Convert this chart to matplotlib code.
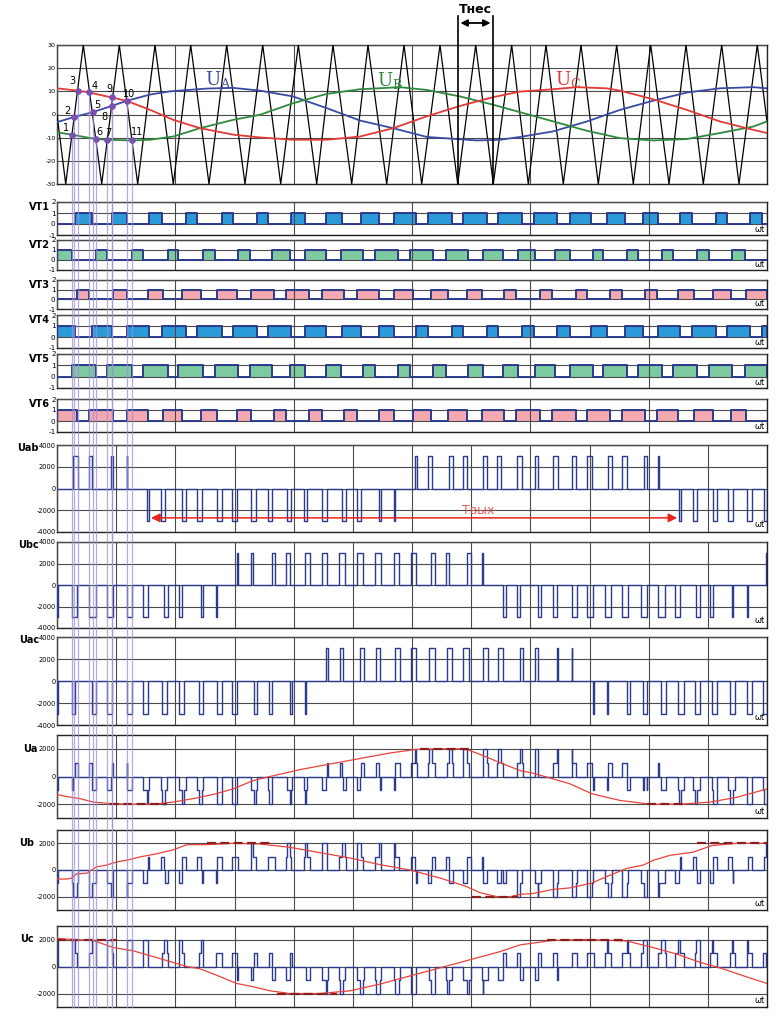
import numpy as np
import matplotlib
matplotlib.use("Agg")
import matplotlib.pyplot as plt

plt.rcParams["mathtext.fontset"] = "dejavuserif"

# ======================= DATA (time axis 0..710) =======================
X_END = 710
UD = 3000

# carrier triangle vertices
carrier_troughs = [8.7, 44.7, 80.7, 116.3, 152.0, 188.0, 223.7, 259.7, 294.7, 329.7,
                   364.7, 400.7, 436.3, 471.3, 506.3, 541.3, 576.3, 612.0, 646.3, 682.0]
carrier_peaks = [26.3, 62.3, 98.0, 133.7, 169.7, 205.7, 241.3, 276.0, 311.0, 347.0,
                 383.0, 418.7, 454.7, 489.0, 524.0, 559.7, 593.7, 629.0, 664.7, 700.3]
carrier_ends = [(0, 0.0), (710, -3.0)]

# reference (modulating) voltages
ua_x = [0, 17, 35.7, 54.7, 69.7, 93, 113, 150, 176, 203, 236, 270, 303, 336, 370, 400,
        420, 443, 463, 496, 530, 563, 593, 630, 663, 696, 710]
ua_y = [-3.3, -1.1, 1.0, 3.7, 5.9, 8.6, 10.0, 11.2, 11.5, 10.3, 7.8, 2.7, -2.6, -5.9, -9.7,
        -10.6, -11.2, -10.9, -9.7, -7.3, -3.0, 2.0, 5.6, 9.5, 11.3, 11.8, 11.3]
ub_x = [0, 14.7, 38.7, 50, 74.7, 93, 116.3, 143, 176.3, 203, 236.3, 269.7, 303, 343, 369.7,
        403, 436.3, 463, 496.3, 513, 529.7, 563, 596.3, 629.7, 663, 696.3, 710]
ub_y = [-7.7, -8.7, -10.6, -10.9, -11.2, -10.9, -9.5, -5.9, -2.3, -0.1, 4.9, 8.9, 10.9, 11.8,
        10.6, 7.8, 4.2, 1.0, -3.0, -5.0, -7.0, -10.2, -11.2, -10.6, -8.0, -5.2, -3.0]
uc_x = [0, 20.7, 32.3, 69.7, 93, 116.3, 143, 176.3, 203, 236, 270, 303, 336.3, 369.7, 403,
        436.3, 463, 496, 519.7, 549.7, 563, 596, 629.7, 663, 696, 710]
uc_y = [11.3, 10.3, 9.5, 5.9, 2.0, -2.3, -5.9, -8.7, -9.9, -10.9, -10.9, -9.5, -5.9, -0.8,
        3.7, 7.5, 9.9, 10.9, 11.8, 11.3, 10.3, 6.6, 2.0, -3.0, -6.6, -8.0]

# marked crossing points 1..11
pt_x = [14.7, 17.0, 20.7, 32.3, 35.7, 38.7, 50.3, 54.7, 55.3, 69.7, 74.7]
pt_y = [-8.7, -1.1, 10.3, 9.5, 1.0, -10.6, -10.9, 3.7, 7.5, 5.9, -11.2]
pt_labels = ["1", "2", "3", "4", "5", "6", "7", "8", "9", "10", "11"]

# gate signals: on-intervals
vt1_on = [(18, 34.7), (54.7, 70.3), (92, 104.7), (128.7, 139.7), (164.7, 175.7),
          (199.7, 211.3), (233.7, 248), (269, 284.7), (303.7, 322.3), (337, 359),
          (371.3, 394.7), (406.3, 430.3), (441.3, 465.3), (477, 499.7), (513, 534),
          (550.3, 568), (586.3, 601.3), (623, 634.7), (659, 669.7), (693, 704.7)]
vt3_on = [(20.3, 32.3), (56.3, 69.7), (91.3, 106.3), (125.3, 143.7), (159.7, 180.3),
          (194, 217), (229, 252.3), (264.7, 287), (300.3, 322.3), (337, 356.3),
          (373.7, 391.3), (410.3, 424.7), (447, 459), (483, 494.7), (518.7, 529.7),
          (553, 564.7), (588, 600.3), (621.3, 637), (656.3, 673.7), (689, 710)]
vt2_on = [(0, 14.7), (38.7, 49.7), (75.3, 86.3), (111.3, 121.3), (145.7, 158),
          (180.7, 193), (214.7, 233), (248, 269), (283.7, 306.3), (318, 341.3),
          (353, 376.3), (389, 411.3), (425.7, 445.7), (461.3, 478), (498, 513),
          (535.7, 546.3), (570.3, 581.3), (605.3, 616.3), (640.3, 652), (674.7, 688)]

# line voltages: pulse intervals (+UD / -UD)
uab_pos = [(16.3, 21.3), (32.3, 35.3), (54, 56.3), (69.7, 70.3), (358, 359.7), (371.3, 374.7),
           (392.3, 395.7), (406.3, 409.7), (426.3, 430.3), (440.3, 443.7), (460.3, 464.7),
           (478, 481.3), (496.3, 501.3), (514.7, 519), (529.7, 534.7), (551.3, 555.3),
           (565.3, 569.7), (587, 589.7), (601.3, 602.3)]
uab_neg = [(90.3, 92.3), (104, 108), (125.3, 128.7), (139.7, 144.7), (159.7, 164.7),
           (175.3, 179.7), (194, 199), (211.3, 214.7), (229.7, 234), (247, 249.7),
           (264.7, 269.7), (285.3, 289), (299.7, 303.7), (322.3, 324), (337, 337.7),
           (622.3, 624), (636.3, 639.7), (655.7, 659.7), (671.3, 675.7), (690.3, 694.7),
           (707, 710)]
ubc_pos = [(179.7, 181.3), (194, 196.3), (214.7, 218), (229, 233), (248, 253), (264.7, 269.7),
           (282.3, 288), (300.3, 306.3), (318, 323.7), (337, 342.3), (353.5, 358.5),
           (374, 378), (389, 392.3), (410.3, 413.7), (425.3, 426.3), (709.3, 710)]
ubc_neg = [(0, 1.3), (14.7, 20.3), (32.3, 38.7), (50.3, 55.7), (69.7, 74.7), (85.7, 90.7),
           (107, 110.7), (122, 125.3), (143.7, 145.7), (159, 159.7), (446.3, 448.7),
           (460.3, 463), (480.7, 484), (495.7, 499.7), (514.7, 519.7), (529.7, 535.7),
           (548, 554), (565.3, 571.3), (583.7, 589.7), (601.3, 608), (618, 623),
           (638.7, 643), (653, 656.3), (674.7, 676.3), (690.3, 691)]
uac_pos = [(269, 270.7), (283, 285.7), (303, 307), (318.7, 323), (338, 343), (353.7, 358.7),
           (372.3, 378), (389.7, 394.7), (406.3, 412.3), (425.7, 430.7), (440.7, 445.7),
           (463, 466.3), (478, 481.3), (499.7, 501.3), (514.7, 515.3)]
uac_neg = [(0, 1.3), (14.7, 18), (34.7, 39), (50.3, 55.3), (70.3, 74.7), (86.3, 91.3),
           (105.3, 110.3), (122, 127.3), (142, 146.3), (159.7, 164.7), (175.3, 179.7),
           (197, 200.3), (212.3, 214.7), (233, 234.7), (248, 248.7), (535.7, 537),
           (549.7, 551.3), (569.7, 573), (586.3, 590.3), (603.7, 609), (621.3, 627),
           (638, 643), (654.7, 660.3), (673, 678), (689.7, 694.7), (706.3, 710)]

# filtered phase voltage (red staircase) samples
ua_f_x = [0, 9.7, 23, 36.3, 56.3, 76, 96, 116, 136, 156, 176, 196, 213, 243, 273, 303, 333,
          358, 383, 408, 423, 443, 463, 476, 496, 513, 535, 563, 593, 623, 653, 680, 710]
ua_f_y = [-1300, -1450, -1600, -1850, -1975, -2000, -2000, -1850, -1600, -1300, -900, -300,
          0, 500, 900, 1300, 1700, 1950, 2000, 2000, 1600, 1000, 430, 240, -170, -530,
          -1250, -1730, -2000, -2000, -1850, -1500, -900]
ub_f_x = [0, 9.7, 14.7, 19.7, 29.7, 39.7, 49.7, 59.7, 69.7, 83, 99.7, 116.3, 129.7, 149.7,
          176.3, 203, 233, 263, 293, 323, 353, 383, 408, 423, 440, 453, 463, 476, 496, 513,
          534.7, 549.7, 569.7, 586.3, 596.3, 613, 636.3, 654.7, 679.7, 710]
ub_f_y = [-680, -680, -610, -290, -240, 240, 370, 610, 730, 980, 1220, 1510, 1900, 1900,
          2000, 1950, 1700, 1300, 900, 400, 0, -600, -1200, -1700, -2000, -2000, -1830,
          -1760, -1460, -1340, -980, -490, 120, 370, 730, 1100, 1340, 1830, 2000, 2000]
uc_f_x = [0, 16.3, 36.3, 56.3, 76.3, 93, 109.7, 129.7, 143, 159.7, 179.7, 196.3, 213, 233,
          263, 293, 323, 353, 383, 413, 443, 463, 479.7, 496.3, 529.7, 569.7, 596.3, 619.7,
          643, 663, 689.7, 710]
uc_f_y = [2080, 2000, 1930, 1400, 1160, 800, 440, 0, -170, -650, -1260, -1500, -1800, -2000,
          -2000, -1800, -1300, -700, -100, 500, 1100, 1600, 1770, 1940, 2000, 1890, 1400,
          920, 310, -100, -770, -1260]
# dashed peak segments of the filtered curves (start, end, level)
ua_dash = [(53, 110, -2000), (363, 413, 2000), (590, 630, -2000)]
ub_dash = [(150, 215, 2000), (415, 460, -2000), (640, 710, 2000)]
uc_dash = [(0, 60, 2000), (220, 280, -2000), (490, 570, 2000)]

# ======================= STYLE =======================
W, H = 784, 1024
LEFT, RIGHT = 57, 767
GRID_C = "#4a4a4a"
NAVY = "#2c3a8e"
C_UA, C_UB, C_UC = "#3b4aa3", "#2f8a3e", "#e23a36"
FILL_BLUE, FILL_GREEN, FILL_PINK = "#2b9ad8", "#7dc9a0", "#f4a8b0"
LAV = "#9c8fd8"
RED = "#e8433a"
pt_offsets = [(-4, 5), (-5, 4), (-4, 7), (4, 5), (3, 5), (3, 5), (1, 5), (-5, -8), (-2, 6), (2, 5), (4, 6)]

fig = plt.figure(figsize=(W / 100, H / 100), dpi=100)


def add_ax(top, bottom):
    return fig.add_axes([LEFT / W, 1 - bottom / H, (RIGHT - LEFT) / W, (bottom - top) / H])


def style_ax(ax, ylim, yticks, ndiv, fs=4.8):
    ax.set_xlim(0, X_END)
    ax.set_ylim(*ylim)
    ax.set_yticks(yticks)
    ax.set_yticklabels([str(t) for t in yticks], fontsize=fs)
    ax.set_xticks(np.linspace(0, X_END, ndiv + 1))
    ax.tick_params(length=0, pad=1, labelbottom=False)
    ax.grid(True, color=GRID_C, lw=0.8)
    ax.set_axisbelow(False)
    for s in ax.spines.values():
        s.set_color("#222222")
        s.set_linewidth(1.0)


def complement(intervals):
    out, prev = [], 0
    for a, b in sorted(intervals):
        if a > prev:
            out.append((prev, a))
        prev = b
    if prev < X_END:
        out.append((prev, X_END))
    return out


def step_from_intervals(intervals, high=1.0):
    xs, ys = [0], [0]
    for a, b in sorted(intervals):
        xs += [a, a, b, b]
        ys += [0, high, high, 0]
    xs.append(X_END)
    ys.append(0)
    return xs, ys


def pulses(pos, neg):
    return [(a, b, UD) for a, b in pos] + [(a, b, -UD) for a, b in neg]


def pulse_value(pl, x):
    for a, b, v in pl:
        if a <= x < b:
            return v
    return 0


def pulse_step(pl):
    xs, ys = [0], [0]
    for a, b, v in sorted(pl):
        xs += [a, a, b, b]
        ys += [0, v, v, 0]
    xs.append(X_END)
    ys.append(0)
    return xs, ys


def phase_step(p1, c1, p2, c2):
    edges = sorted(set([0, X_END] + [e for a, b, _ in p1 + p2 for e in (a, b)]))
    xs, ys = [], []
    for e0, e1 in zip(edges[:-1], edges[1:]):
        m = 0.5 * (e0 + e1)
        v = (c1 * pulse_value(p1, m) + c2 * pulse_value(p2, m)) / 3.0
        xs += [e0, e1]
        ys += [v, v]
    return xs, ys


# ======================= TOP PANEL =======================
ax0 = add_ax(45, 184)
style_ax(ax0, (-30, 30), [30, 20, 10, 0, -10, -20, -30], 6, fs=4.6)
cv = sorted([(x, -30) for x in carrier_troughs] + [(x, 30) for x in carrier_peaks] + carrier_ends)
ax0.plot([p[0] for p in cv], [p[1] for p in cv], color="black", lw=0.9, zorder=3)
ax0.plot(ua_x, ua_y, color=C_UA, lw=1.3, zorder=4)
ax0.plot(ub_x, ub_y, color=C_UB, lw=1.3, zorder=4)
ax0.plot(uc_x, uc_y, color=C_UC, lw=1.3, zorder=4)
ax0.text(148, 15.0, r"$\mathrm{U_A}$", color=C_UA, fontsize=13, ha="left", va="center")
ax0.text(320, 14.5, r"$\mathrm{U_B}$", color=C_UB, fontsize=13, ha="left", va="center")
ax0.text(498, 15.0, r"$\mathrm{U_C}$", color=C_UC, fontsize=13, ha="left", va="center")
for x, y in zip(pt_x, pt_y):
    ax0.plot([x, x], [y, -30], color=LAV, lw=0.9, alpha=0.8, zorder=5)
ax0.scatter(pt_x, pt_y, s=14, color="#7a4fb2", zorder=6)
for x, y, lab, off in zip(pt_x, pt_y, pt_labels, pt_offsets):
    ax0.annotate(lab, (x, y), xytext=off, textcoords="offset points", fontsize=7,
                 ha="center", va="center", zorder=7)
# T_nes marker
for xv in (400.7, 436.3):
    ax0.plot([xv, xv], [-30, 42.5], color="black", lw=1.2, clip_on=False, zorder=6)
ax0.annotate("", xy=(400.7, 39.5), xytext=(436.3, 39.5),
             arrowprops=dict(arrowstyle="<|-|>", color="black", lw=1.3, mutation_scale=10),
             annotation_clip=False)
ax0.text(418.5, 45.5, "Tнес", fontsize=9, ha="center", va="center", fontweight="bold")

# ======================= GATE SIGNALS =======================
vt4_on = complement(vt1_on)
vt5_on = complement(vt2_on)
vt6_on = complement(vt3_on)
gates = [("VT1", vt1_on, FILL_BLUE, 202, 235), ("VT2", vt2_on, FILL_GREEN, 240, 270),
         ("VT3", vt3_on, FILL_PINK, 280, 309), ("VT4", vt4_on, FILL_BLUE, 315, 348),
         ("VT5", vt5_on, FILL_GREEN, 354, 388), ("VT6", vt6_on, FILL_PINK, 399, 432)]
for name, on, fc, top, bot in gates:
    ax = add_ax(top, bot)
    style_ax(ax, (-1, 2), [2, 1, 0, -1], 6, fs=5.2)
    for a, b in on:
        ax.fill_between([a, b], 0, 1, color=fc, lw=0, zorder=1)
    xs, ys = step_from_intervals(on)
    ax.plot(xs, ys, color=NAVY, lw=1.4, zorder=3)
    ax.text(0.997, 0.04, "ωt", transform=ax.transAxes, fontsize=6, ha="right", va="bottom")
    fig.text(50 / W, 1 - (top + 5) / H, name, fontsize=7, fontweight="bold", ha="right", va="center")

# ======================= LINE VOLTAGES =======================
p_ab = pulses(uab_pos, uab_neg)
p_bc = pulses(ubc_pos, ubc_neg)
p_ac = pulses(uac_pos, uac_neg)
lines = [("Uab", p_ab, 445, 532), ("Ubc", p_bc, 542, 628), ("Uac", p_ac, 637, 725)]
for name, pl, top, bot in lines:
    ax = add_ax(top, bot)
    style_ax(ax, (-4000, 4000), [4000, 2000, 0, -2000, -4000], 12)
    xs, ys = pulse_step(pl)
    ax.plot(xs, ys, color=NAVY, lw=1.0, zorder=3)
    ax.text(0.997, 0.03, "ωt", transform=ax.transAxes, fontsize=6, ha="right", va="bottom")
    fig.text(39 / W, 1 - (top + 3) / H, name, fontsize=7, fontweight="bold", ha="right", va="center")
    if name == "Uab":
        ax.annotate("", xy=(91.3, -2700), xytext=(623, -2700),
                    arrowprops=dict(arrowstyle="<|-|>", color="#e8221c", lw=1.1, mutation_scale=13),
                    zorder=5)
        ax.text(421, -2050, "Tвых", color="#e8433a", fontsize=9, ha="center", va="center", alpha=0.85)

# ======================= PHASE VOLTAGES =======================
phases = [("Ua", phase_step(p_ab, 1, p_ac, 1), ua_f_x, ua_f_y, ua_dash, 735, 818, 38),
          ("Ub", phase_step(p_bc, 1, p_ab, -1), ub_f_x, ub_f_y, ub_dash, 830, 910, 34),
          ("Uc", phase_step(p_ac, -1, p_bc, -1), uc_f_x, uc_f_y, uc_dash, 926, 1007, 34)]
for name, (xs, ys), fx, fy, dashes, top, bot, lx in phases:
    ax = add_ax(top, bot)
    style_ax(ax, (-3000, 3000), [2000, 0, -2000], 12)
    ax.plot(xs, ys, color=NAVY, lw=1.0, zorder=3)
    ax.plot(fx, fy, color=RED, lw=0.9, zorder=4)
    for a, b, lev in dashes:
        ax.plot([a, b], [lev, lev], color="#8b1d1d", lw=1.6, ls=(0, (4, 2)), zorder=5)
    ax.text(0.997, 0.03, "ωt", transform=ax.transAxes, fontsize=6, ha="right", va="bottom")
    y2000 = top + (bot - top) * (1000 / 6000)
    fig.text(lx / W, 1 - y2000 / H, name, fontsize=7, fontweight="bold", ha="right", va="center")

# ======================= LAVENDER MARKER LINES =======================
ov = fig.add_axes([LEFT / W, 1 - 1008 / H, (RIGHT - LEFT) / W, (1008 - 184) / H])
ov.set_xlim(0, X_END)
ov.set_ylim(0, 1)
ov.axis("off")
ov.patch.set_alpha(0)
ov.vlines(pt_x, 0, 1, color=LAV, lw=0.9, alpha=0.75)

fig.savefig("out.png", dpi=100)
